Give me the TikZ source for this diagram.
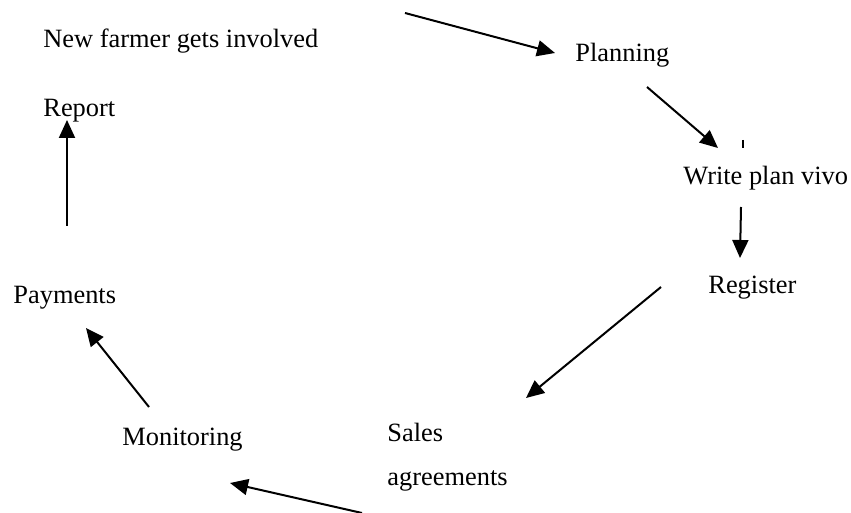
\documentclass[tikz,border=0pt]{standalone}
\usepackage{fontspec}
\setmainfont{Liberation Serif}
\usetikzlibrary{arrows.meta}

\begin{document}
\begin{tikzpicture}[
    x=0.5pt, y=-0.5pt,
    stage/.style={inner sep=0pt, anchor=base west, font=\fontsize{13.2}{22}\selectfont},
    flow/.style={-{Triangle[length=9pt,width=8pt]}, line width=1pt},
]
    \useasboundingbox (0,0) rectangle (851,513);

    \node[stage] (farmer) at (43,48) {New farmer gets involved};
    \node[stage] (planning) at (575,62) {Planning};
    \node[stage] (report) at (43,117) {Report};
    \node[stage] (writeplan) at (683,185) {Write plan vivo};
    \node[stage] (register) at (708,293) {Register};
    \node[stage] (payments) at (13,303) {Payments};
    \node[stage] (monitoring) at (122,445) {Monitoring};
    \node[stage, align=left] (sales) at (387,485) {Sales\\agreements};

    % arrow ends
    \coordinate (farmer out) at (405,13);
    \coordinate (planning in) at (555,53);
    \coordinate (planning out) at (647,87);
    \coordinate (writeplan in) at (718,148);
    \coordinate (writeplan out) at (741,207);
    \coordinate (register in) at (740,258);
    \coordinate (register out) at (661,287);
    \coordinate (sales in) at (526,398);
    \coordinate (sales out) at (362,513);
    \coordinate (monitoring in) at (230,483);
    \coordinate (monitoring out) at (149,407);
    \coordinate (payments in) at (86,328);
    \coordinate (payments out) at (67,226);
    \coordinate (report in) at (67,120);
    \coordinate (tick top) at (743,140);
    \coordinate (tick bottom) at (743,148);

    \draw[flow] (farmer out) -- (planning in);
    \draw[flow] (planning out) -- (writeplan in);
    \draw[line width=1pt] (tick top) -- (tick bottom);
    \draw[flow] (writeplan out) -- (register in);
    \draw[flow] (register out) -- (sales in);
    \draw[flow] (sales out) -- (monitoring in);
    \draw[flow] (monitoring out) -- (payments in);
    \draw[flow] (payments out) -- (report in);
\end{tikzpicture}
\end{document}
